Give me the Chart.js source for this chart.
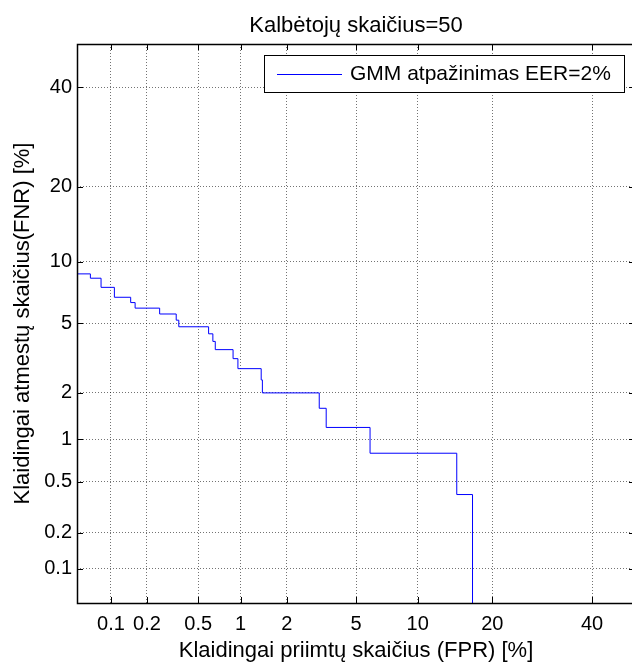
<!DOCTYPE html>
<html lang="lt">
<head>
<meta charset="UTF-8">
<title>Kalbėtojų skaičius=50</title>
<script src="https://cdn.jsdelivr.net/npm/chart.js"></script>
<style>
  html, body { margin: 0; padding: 0; overflow: hidden; background: #fff; }
  canvas { display: block; }
</style>
</head>
<body>
<canvas id="detChart" width="640" height="666"></canvas>
<script>
  // DET curve corners (%), curve steps horizontally then drops at each FPR value
  const fprValues = [0.01, 0.066, 0.082, 0.107, 0.147, 0.160, 0.253, 0.341, 0.357, 0.596, 0.64,
                     0.666, 0.889, 0.96, 1.375, 1.40, 3.13, 3.43, 5.91, 14.66, 16.9];
  const fnrValues = [8.8, 8.4, 7.6, 6.8, 6.4, 6.0, 5.6, 5.2, 4.8, 4.4, 4.0,
                     3.6, 3.2, 2.8, 2.4, 2.0, 1.6, 1.2, 0.8, 0.4, 0.0];
  const tickValues = [0.1, 0.2, 0.5, 1, 2, 5, 10, 20, 40];
  const axisMin = 0.05;
  const axisMax = 50;

  const FONT = '"Liberation Sans", Arial, sans-serif';

  // inverse normal CDF (Acklam's approximation)
  function probit(p) {
    p = Math.min(Math.max(p, 1e-9), 1 - 1e-9);
    const a = [-39.69683028665376, 220.9460984245205, -275.9285104469687, 138.3577518672690, -30.66479806614716, 2.506628277459239];
    const b = [-54.47609879822406, 161.5858368580409, -155.6989798598866, 66.80131188771972, -13.28068155288572];
    const c = [-0.007784894002430293, -0.3223964580411365, -2.400758277161838, -2.549732539343734, 4.374664141464968, 2.938163982698783];
    const d = [0.007784695709041462, 0.3224671290700398, 2.445134137142996, 3.754408661907416];
    const plow = 0.02425;
    let q, r;
    if (p < plow) {
      q = Math.sqrt(-2 * Math.log(p));
      return (((((c[0]*q+c[1])*q+c[2])*q+c[3])*q+c[4])*q+c[5]) / ((((d[0]*q+d[1])*q+d[2])*q+d[3])*q+1);
    }
    if (p <= 1 - plow) {
      q = p - 0.5; r = q * q;
      return (((((a[0]*r+a[1])*r+a[2])*r+a[3])*r+a[4])*r+a[5])*q / (((((b[0]*r+b[1])*r+b[2])*r+b[3])*r+b[4])*r+1);
    }
    q = Math.sqrt(-2 * Math.log(1 - p));
    return -(((((c[0]*q+c[1])*q+c[2])*q+c[3])*q+c[4])*q+c[5]) / ((((d[0]*q+d[1])*q+d[2])*q+d[3])*q+1);
  }

  function normCdf(z) {
    const x = Math.abs(z) / Math.SQRT2;
    const t = 1 / (1 + 0.3275911 * x);
    const erf = 1 - (((((1.061405429*t - 1.453152027)*t) + 1.421413741)*t - 0.284496736)*t + 0.254829592)*t*Math.exp(-x*x);
    return z >= 0 ? 0.5 * (1 + erf) : 0.5 * (1 - erf);
  }

  // normal-deviate axis, values given in percent
  class ProbitScale extends Chart.Scale {
    determineDataLimits() {
      this.min = this.options.min;
      this.max = this.options.max;
    }
    buildTicks() {
      return tickValues.filter(v => v >= this.min && v <= this.max).map(v => ({ value: v }));
    }
    configure() {
      super.configure();
      this._pStart = probit(this.min / 100);
      this._pRange = probit(this.max / 100) - this._pStart;
    }
    getLabelForValue(value) {
      return String(value);
    }
    getPixelForValue(value) {
      const z = probit(value / 100);
      return this.getPixelForDecimal((z - this._pStart) / this._pRange);
    }
    getValueForPixel(pixel) {
      const z = this._pStart + this.getDecimalForPixel(pixel) * this._pRange;
      return normCdf(z) * 100;
    }
  }
  ProbitScale.id = 'probit';
  ProbitScale.defaults = {};
  Chart.register(ProbitScale);

  // black box round the plot with short inward ticks
  const axesFrame = {
    id: 'axesFrame',
    afterDraw(chart) {
      const { ctx, chartArea: ca, scales } = chart;
      const tl = 6;
      ctx.save();
      ctx.strokeStyle = '#000';
      ctx.lineWidth = 1;
      ctx.beginPath();
      scales.x.ticks.forEach(t => {
        const px = Math.round(scales.x.getPixelForValue(t.value)) + 0.5;
        ctx.moveTo(px, ca.bottom); ctx.lineTo(px, ca.bottom - tl);
        ctx.moveTo(px, ca.top); ctx.lineTo(px, ca.top + tl);
      });
      scales.y.ticks.forEach(t => {
        const py = Math.round(scales.y.getPixelForValue(t.value)) + 0.5;
        ctx.moveTo(ca.left, py); ctx.lineTo(ca.left + tl, py);
        ctx.moveTo(ca.right, py); ctx.lineTo(ca.right - tl, py);
      });
      ctx.stroke();
      ctx.lineWidth = 1.5;
      ctx.strokeRect(Math.round(ca.left) + 0.5, Math.round(ca.top) + 0.5,
                     Math.round(ca.right - ca.left), Math.round(ca.bottom - ca.top));
      ctx.restore();
    }
  };

  // legend drawn as a white box inside the top right corner of the plot
  const boxedLegend = {
    id: 'boxedLegend',
    afterDraw(chart) {
      const { ctx, chartArea: ca } = chart;
      const ds = chart.data.datasets[0];
      ctx.save();
      ctx.font = '21px ' + FONT;
      const textW = ctx.measureText(ds.label).width;
      const right = Math.round(ca.right - 11);
      const left = Math.min(264, right - Math.round(13 + 65 + 8 + textW + 11));
      const top = Math.round(ca.top + 11);
      const h = 37;
      ctx.fillStyle = '#fff';
      ctx.fillRect(left, top, right - left, h);
      ctx.strokeStyle = '#000';
      ctx.lineWidth = 1;
      ctx.strokeRect(left + 0.5, top + 0.5, right - left, h);
      const midY = top + h / 2;
      ctx.strokeStyle = ds.borderColor;
      ctx.beginPath();
      ctx.moveTo(left + 13, Math.round(midY) + 0.5);
      ctx.lineTo(left + 78, Math.round(midY) + 0.5);
      ctx.stroke();
      ctx.fillStyle = '#000';
      ctx.textBaseline = 'middle';
      ctx.fillText(ds.label, left + 86, midY + 1);
      ctx.restore();
    }
  };

  const points = fprValues.map((x, i) => ({ x: x, y: fnrValues[i] }));

  const gridOpts = { color: 'rgba(0,0,0,0.55)', drawTicks: false, lineWidth: 1 };
  const borderOpts = { display: false, dash: [1, 2] };

  new Chart(document.getElementById('detChart'), {
    type: 'line',
    data: {
      datasets: [{
        label: 'GMM atpažinimas EER=2%',
        data: points,
        borderColor: '#0000ff',
        borderWidth: 1,
        pointRadius: 0,
        stepped: true,
        fill: false
      }]
    },
    options: {
      responsive: false,
      animation: false,
      layout: { padding: { left: 0, right: 5, top: 0, bottom: 0 } },
      plugins: {
        legend: { display: false },
        tooltip: { enabled: false },
        title: {
          display: true,
          text: 'Kalbėtojų skaičius=50',
          fullSize: false,
          color: '#000',
          font: { family: FONT, size: 22, weight: 'normal', lineHeight: 1.2 },
          padding: { top: 13, bottom: 4.6 }
        }
      },
      scales: {
        x: {
          type: 'probit',
          position: 'bottom',
          min: axisMin,
          max: axisMax,
          grid: gridOpts,
          border: borderOpts,
          ticks: {
            autoSkip: false, maxRotation: 0, padding: 9, color: '#000',
            font: { family: FONT, size: 20 }
          },
          title: {
            display: true,
            text: 'Klaidingai priimtų skaičius (FPR) [%]',
            color: '#000',
            font: { family: FONT, size: 22, lineHeight: 1.2 },
            padding: { top: 0, bottom: 2 }
          },
          afterFit(scale) { scale.height = 63; }
        },
        y: {
          type: 'probit',
          position: 'left',
          min: axisMin,
          max: axisMax,
          grid: gridOpts,
          border: borderOpts,
          ticks: {
            autoSkip: false, padding: 5, color: '#000',
            font: { family: FONT, size: 20 }
          },
          title: {
            display: true,
            text: 'Klaidingai atmestų skaičius(FNR) [%]',
            color: '#000',
            font: { family: FONT, size: 22, lineHeight: 1.2 },
            padding: { top: 10, bottom: 0 }
          },
          afterFit(scale) { scale.width = 77; }
        }
      }
    },
    plugins: [axesFrame, boxedLegend]
  });
</script>
</body>
</html>
